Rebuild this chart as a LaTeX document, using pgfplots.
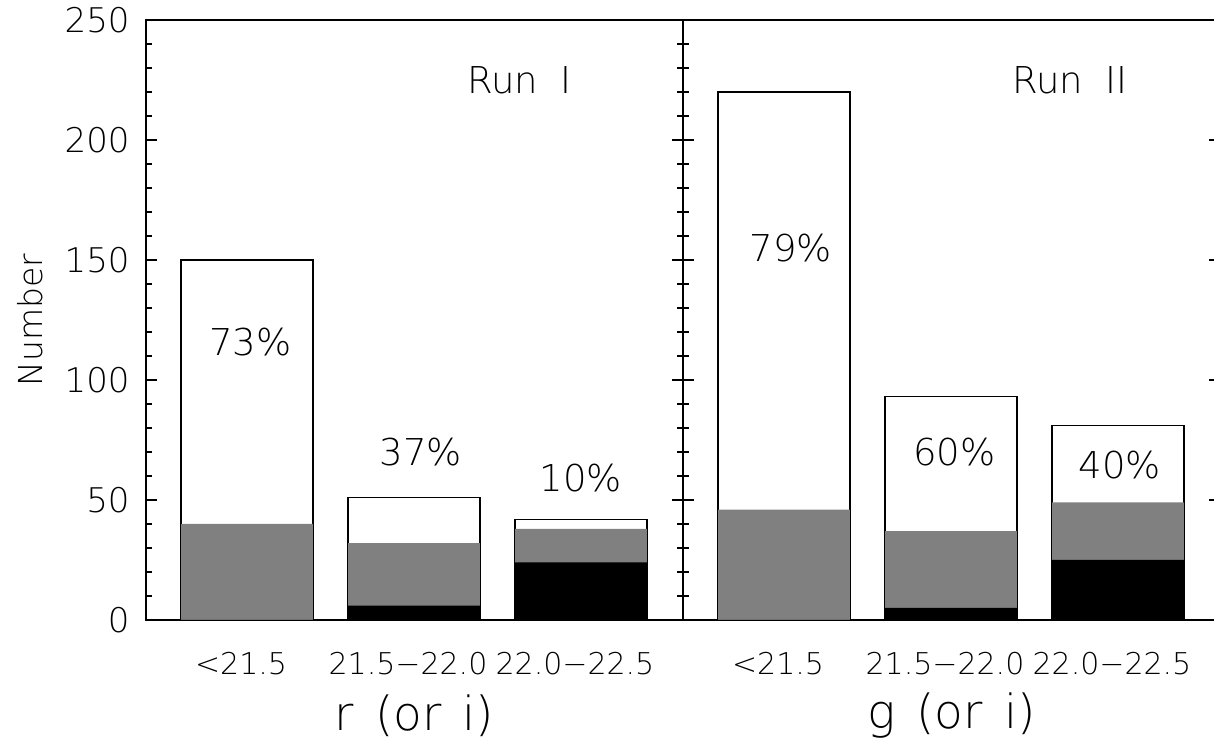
\documentclass[border=0pt]{standalone}
\usepackage{fontspec}
\setmainfont{DejaVu Sans ExtraLight}
\usepackage{pgfplots}
\pgfplotsset{compat=1.18}
\definecolor{midgray}{RGB}{128,128,128}

\pgfplotsset{
  panel/.style={
    scale only axis, width=268.5pt, height=300pt,
    anchor=south west,
    xmin=0.395, xmax=3.611, ymin=0, ymax=250,
    axis line style={line width=1pt},
    ytick={0,50,...,250}, minor y tick num=4,
    major tick length=5.5pt, minor tick length=3pt,
    tick style={black, line width=0.8pt},
    xtick={1}, xticklabels={}, xtick pos=bottom,
    extra x ticks={1,2,3},
    extra x tick labels={<21.5, 21.5−22.0, 22.0−22.5},
    extra x tick style={major tick length=0pt},
    x tick label style={font=\fontsize{15}{18}\selectfont, anchor=north, inner sep=0pt, yshift=-16pt, xshift=-3pt},
    y tick label style={font=\fontsize{17}{20}\selectfont, anchor=east, inner sep=0pt, xshift=-8pt},
    /pgf/number format/assume math mode=true,
    every axis x label/.style={at={(axis description cs:0.5,0)}, anchor=center, yshift=-48pt, font=\fontsize{23.5}{27}\selectfont},
    every axis y label/.style={at={(axis description cs:-0.216,0.5)}, rotate=90, anchor=center, font=\fontsize{16.5}{19}\selectfont},
  },
  tot/.style={ybar, bar width=0.79, bar shift=0pt, fill=white, draw=black, line width=0.6pt},
  mid/.style={ybar, bar width=0.79, bar shift=0pt, fill=midgray, draw=none},
  low/.style={ybar, bar width=0.79, bar shift=0pt, fill=black, draw=none},
}
\tikzset{lab/.style={font=\fontsize{18.5}{21}\selectfont}}

\begin{document}
\begin{tikzpicture}
\begin{axis}[panel, at={(73pt,61pt)}, xlabel={r\hspace{0.45em}(or\hspace{0.45em}i)}, ylabel={Number}]
\addplot[tot] coordinates {(1,150) (2,51) (3,42)};
\addplot[mid] coordinates {(1,40) (2,32) (3,38)};
\addplot[low] coordinates {(1,0) (2,6) (3,24)};
\node[lab] at (axis cs:1.02,115.8) {73\%};
\node[lab] at (axis cs:2.04,70) {37\%};
\node[lab] at (axis cs:3.0,59.2) {10\%};
\node[lab] at (axis cs:2.63,225) {Run\hspace{0.6em}I};
\end{axis}
\begin{axis}[panel, at={(341.5pt,61pt)}, xlabel={g\hspace{0.45em}(or\hspace{0.45em}i)}, yticklabels={}]
\addplot[tot] coordinates {(1,220) (2,93) (3,81)};
\addplot[mid] coordinates {(1,46) (2,37) (3,49)};
\addplot[low] coordinates {(1,0) (2,5) (3,25)};
\node[lab] at (axis cs:1.04,155) {79\%};
\node[lab] at (axis cs:2.02,70) {60\%};
\node[lab] at (axis cs:3.01,64.6) {40\%};
\node[lab] at (axis cs:2.71,225) {Run\hspace{0.6em}II};
\end{axis}
\pgfresetboundingbox
\path[use as bounding box] (0,0) rectangle (607pt,371pt);
\end{tikzpicture}
\end{document}
